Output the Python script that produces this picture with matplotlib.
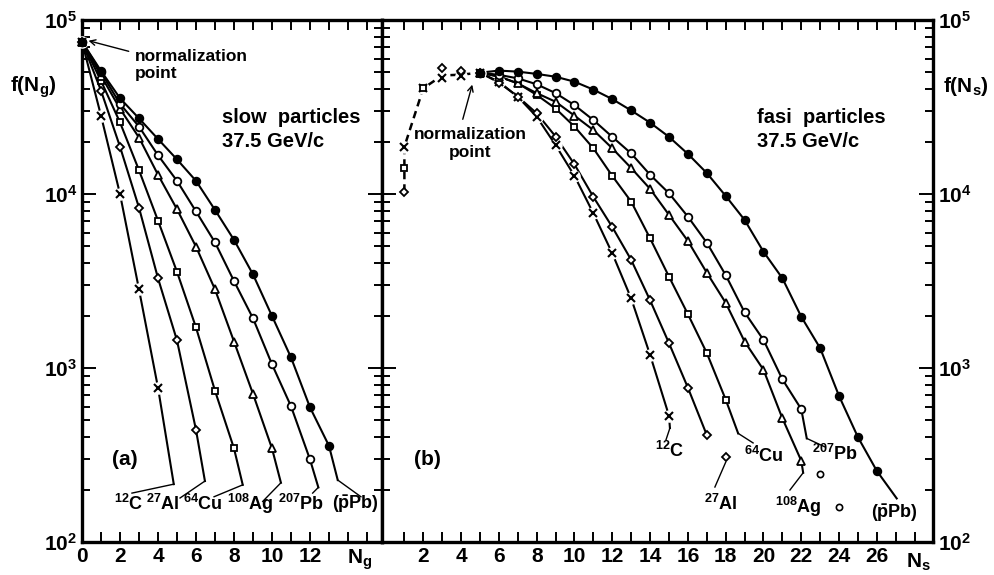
import matplotlib
matplotlib.use('Agg')
import matplotlib.pyplot as plt
from matplotlib.ticker import FixedLocator, LogLocator, NullFormatter

plt.rcParams['font.family'] = ['Liberation Sans', 'DejaVu Sans']
plt.rcParams['font.weight'] = 'bold'
plt.rcParams['mathtext.default'] = 'regular'

# ---- panel (a): slow particles, f(N_g) ----
a_pbar = [75000, 51000, 35500, 27200, 20700, 15800, 11900, 8100, 5450, 3450, 1990, 1150, 594, 357]
a_pb = [75000, 50000, 33000, 24400, 16700, 11900, 7940, 5270, 3160, 1930, 1050, 603, 298]
a_ag = [75000, 47900, 30900, 21100, 12900, 8170, 4980, 2830, 1420, 710, 345]
a_cu = [75000, 44700, 25800, 13700, 7030, 3570, 1710, 740, 345]
a_al = [75000, 39300, 18700, 8340, 3280, 1440, 441]
a_c = [75000, 28200, 10000, 2830, 771]

# ---- panel (b): fast particles, f(N_s), from the normalization point N_s = 5 on ----
b_pbar = [49800, 51200, 50500, 49000, 47200, 44200, 39800, 35100, 30200, 25700, 21300,
          17000, 13200, 9750, 7100, 4660, 3280, 1970, 1300, 690, 400, 256]
b_pb = [49800, 48400, 46200, 42700, 38000, 32400, 26600, 21300, 17100, 12900, 10100,
        7410, 5250, 3420, 2090, 1450, 861, 580]
b_ag = [49800, 47300, 43200, 38000, 33900, 28200, 23300, 18300, 14100, 10700, 7590,
        5370, 3530, 2370, 1420, 977, 514, 293]
b_cu = [49800, 47300, 43300, 37100, 31000, 24400, 18300, 12700, 9040, 5560, 3350,
        2040, 1220, 659]
b_al = [49800, 43700, 36300, 29100, 21400, 14800, 9620, 6460, 4180, 2450, 1390, 771, 412]
b_c = [49800, 44200, 36200, 27800, 19100, 12700, 7740, 4560, 2510, 1190, 532]

# points below the normalization point (dashed part) and loose points
b_c_low_x, b_c_low = [1, 2, 3, 4], [18700, 40500, 46200, 47600]
b_cu_low_x, b_cu_low = [1, 2], [14100, 40500]
b_al_low_x, b_al_low = [1, 3, 4], [10300, 52700, 51000]
rise_x = [1, 1, 1, 2, 3, 4, 5]
rise_y = [10300, 14100, 18700, 40500, 48000, 48500, 49800]
b_al_extra_x, b_al_extra = [18], [309]
b_pb_extra_x, b_pb_extra = [23, 24], [245, 158]

labels = [r'$^{12}$C', r'$^{27}$Al', r'$^{64}$Cu', r'$^{108}$Ag', r'$^{207}$Pb', r'($\bar{p}$Pb)']

# curve end, leader end, label centre (data coords)
a_notes = [((4.83, 215), (2.63, 191), (2.47, 166)),
           ((6.47, 224), (5.16, 179), (4.26, 166)),
           ((8.46, 213), (6.95, 182), (6.37, 166)),
           ((10.47, 219), (9.51, 171), (8.84, 166)),
           ((12.44, 206), (12.14, 191), (11.53, 166)),
           ((13.46, 227), (14.68, 182), (14.42, 166))]
b_notes = [((15.05, 452), (14.84, 386), (15.05, 333)),
           (None, (17.43, 207), (17.75, 165)),
           ((18.66, 421), (19.45, 371), (20.03, 312)),
           ((22.10, 250), (21.40, 199), (21.83, 160)),
           ((22.29, 394), (23.25, 352), (23.78, 322)),
           ((27.05, 178), (27.05, 178), (26.93, 147))]

styles = [dict(marker='x', ms=6, mew=1.5, mfc='black'),
          dict(marker='D', ms=4.5, mew=1.3, mfc='white'),
          dict(marker='s', ms=5, mew=1.3, mfc='white'),
          dict(marker='^', ms=5.5, mew=1.3, mfc='white'),
          dict(marker='o', ms=5.5, mew=1.3, mfc='white'),
          dict(marker='o', ms=5.5, mew=1.3, mfc='black')]

fig = plt.figure(figsize=(9.94, 5.75), dpi=100)
ax1 = fig.add_axes([82 / 994, 33 / 575, 300 / 994, 522 / 575])
ax2 = fig.add_axes([382 / 994, 33 / 575, 551 / 994, 522 / 575])


def draw(ax, xs, ys, st, end=None):
    lx, ly = list(xs), list(ys)
    if end is not None:
        lx.append(end[0])
        ly.append(end[1])
    ax.plot(lx, ly, color='black', lw=1.5, zorder=2, clip_on=False)
    if st['marker'] == 'x':
        ax.plot(xs, ys, ls='none', marker='o', ms=8, mfc='white', mec='white', zorder=3, clip_on=False)
    ax.plot(xs, ys, ls='none', color='black', mec='black', zorder=4, clip_on=False, **st)


a_series = [a_c, a_al, a_cu, a_ag, a_pb, a_pbar]
for ys, st, (end, lead, lab), txt in zip(a_series, styles, a_notes, labels):
    draw(ax1, range(len(ys)), ys, st, end)
    ax1.plot([end[0], lead[0]], [end[1], lead[1]], color='black', lw=1.0)
    ax1.text(lab[0], lab[1], txt, ha='center', va='center', fontsize=13)

b_series = [b_c, b_al, b_cu, b_ag, b_pb, b_pbar]
for ys, st, (end, lead, lab), txt in zip(b_series, styles, b_notes, labels):
    xs = range(5, 5 + len(ys))
    draw(ax2, xs, ys, st, end)
    if end is not None:
        ax2.plot([end[0], lead[0]], [end[1], lead[1]], color='black', lw=1.0)
    ax2.text(lab[0], lab[1], txt, ha='center', va='center', fontsize=13)

ax2.plot(rise_x, rise_y, color='black', lw=1.8, ls=(0, (3, 2)), zorder=2)
for xs, ys, st in [(b_c_low_x, b_c_low, styles[0]), (b_cu_low_x, b_cu_low, styles[2]),
                   (b_al_low_x, b_al_low, styles[1])]:
    if st['marker'] == 'x':
        ax2.plot(xs, ys, ls='none', marker='o', ms=8, mfc='white', mec='white', zorder=3)
    ax2.plot(xs, ys, ls='none', color='black', mec='black', zorder=4, **st)
ax2.plot(b_al_extra_x, b_al_extra, ls='none', color='black', mec='black', zorder=4, **styles[1])
ax2.plot(b_pb_extra_x, b_pb_extra, ls='none', marker='o', ms=4.5, mew=1.2, mfc='white', mec='black')
ax2.plot([b_al_extra_x[0], b_notes[1][1][0]], [b_al_extra[0] * 0.93, b_notes[1][1][1]], color='black', lw=1.0)

for ax in (ax1, ax2):
    ax.set_yscale('log')
    ax.set_ylim(1e2, 1e5)
    ax.yaxis.set_major_locator(FixedLocator([1e2, 1e3, 1e4, 1e5]))
    ax.yaxis.set_minor_locator(LogLocator(base=10, subs=range(2, 10)))
    ax.yaxis.set_minor_formatter(NullFormatter())
    for s in ax.spines.values():
        s.set_linewidth(2.4)
    ax.tick_params(which='both', direction='in', top=True, bottom=True, left=True, right=True,
                   width=1.4, labelsize=15)
    ax.tick_params(axis='y', which='major', length=10)
    ax.tick_params(axis='y', which='minor', length=6)
    ax.tick_params(axis='x', which='major', length=7)
    for t in ax.get_xticklabels() + ax.get_yticklabels():
        t.set_fontweight('bold')

ax1.set_xlim(0, 15.79)
ax1.set_xticks(range(0, 16))
ax1.set_xticklabels([str(i) if (i % 2 == 0 and i <= 12) else '' for i in range(0, 16)], fontweight='bold')
ax1.set_yticklabels([r'10$^2$', r'10$^3$', r'10$^4$', r'10$^5$'], fontweight='bold')

ax2.set_xlim(-0.185, 28.97)
ax2.set_xticks(range(1, 29))
ax2.set_xticklabels([str(i) if (i % 2 == 0 and i <= 26) else '' for i in range(1, 29)], fontweight='bold')
ax2.tick_params(axis='y', labelleft=False, labelright=True)
ax2.set_yticklabels([r'10$^2$', r'10$^3$', r'10$^4$', r'10$^5$'], fontweight='bold')

# panel texts
ax1.text(2.79, 10 ** 4.741, 'normalization\npoint', ha='left', va='center', fontsize=12.5, linespacing=1.2)
ax1.annotate('', xy=(0.2, 10 ** 4.885), xytext=(2.6, 10 ** 4.816),
             arrowprops=dict(arrowstyle='->', color='black', lw=1.0))
ax1.text(7.37, 10 ** 4.437, 'slow  particles', ha='left', va='center', fontsize=14.5)
ax1.text(7.37, 10 ** 4.299, '37.5 GeV/c', ha='left', va='center', fontsize=14.5)
ax1.text(2.26, 296, '(a)', ha='center', va='center', fontsize=15)

ax2.text(4.47, 10 ** 4.29, 'normalization\npoint', ha='center', va='center', fontsize=12.5, linespacing=1.2)
ax2.annotate('', xy=(4.63, 10 ** 4.644), xytext=(4.05, 10 ** 4.414),
             arrowprops=dict(arrowstyle='->', color='black', lw=1.0))
ax2.text(19.66, 10 ** 4.437, 'fasi  particles', ha='left', va='center', fontsize=14.5)
ax2.text(19.66, 10 ** 4.299, '37.5 GeV/c', ha='left', va='center', fontsize=14.5)
ax2.text(2.2, 296, '(b)', ha='center', va='center', fontsize=15)

fig.text(33 / 994, 1 - 87 / 575, r'f(N$_g$)', ha='center', va='center', fontsize=15)
fig.text(966 / 994, 1 - 87 / 575, r'f(N$_s$)', ha='center', va='center', fontsize=15)
fig.text(360 / 994, 1 - 560 / 575, r'N$_g$', ha='center', va='center', fontsize=15)
fig.text(918 / 994, 1 - 562 / 575, r'N$_s$', ha='center', va='center', fontsize=15)

fig.savefig('out.png', dpi=100)
